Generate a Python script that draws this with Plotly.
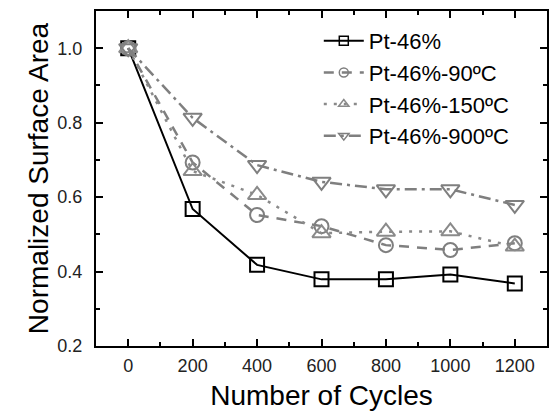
import plotly.graph_objects as go

cycles = [0, 200, 400, 600, 800, 1000, 1200]
pt46 = [1.0, 0.568, 0.418, 0.379, 0.379, 0.392, 0.368]
pt46_90 = [1.0, 0.693, 0.552, 0.522, 0.471, 0.458, 0.476]
pt46_150 = [1.0, 0.670, 0.606, 0.503, 0.507, 0.508, 0.467]
pt46_900 = [1.0, 0.813, 0.686, 0.641, 0.621, 0.621, 0.579]

names = ["Pt-46%", "Pt-46%-90ºC", "Pt-46%-150ºC", "Pt-46%-900ºC"]
series = [pt46, pt46_90, pt46_150, pt46_900]
colors = ["#000000", "#7f7f7f", "#8a8a8a", "#7f7f7f"]
widths = [2, 2.5, 2.5, 2.5]
dashes = ["solid", "10px,8px", "3px,7px", "12px,5px,3px,5px"]
symbols = ["square-open", "circle-open", "triangle-up-open", "triangle-down-open"]
sizes = [14, 14, 16, 16]

fig = go.Figure()
for n, ys, c, w, d, s, sz in zip(names, series, colors, widths, dashes, symbols, sizes):
    fig.add_trace(go.Scatter(
        x=cycles, y=ys, name=n, mode="lines+markers", showlegend=False,
        line=dict(color=c, width=w, dash=d),
        marker=dict(symbol=s, size=sz, color=c, line=dict(width=2, color=c)),
    ))
# legend entries with smaller symbols, as in the reference key
for n, c, w, d, s in zip(names, colors, widths, dashes, symbols):
    fig.add_trace(go.Scatter(
        x=[None], y=[None], name=n, mode="lines+markers", showlegend=True,
        line=dict(color=c, width=w, dash=d),
        marker=dict(symbol=s, size=9, color=c, line=dict(width=1.5, color=c)),
    ))

font = "Arial, Liberation Sans, sans-serif"
axis_common = dict(
    showline=True, linecolor="black", linewidth=2, mirror="ticks",
    ticks="inside", ticklen=7, tickwidth=2, tickcolor="black",
    showgrid=False, zeroline=False, automargin=False,
    tickfont=dict(family=font, size=18, color="#222"),
)
fig.update_xaxes(
    range=[-100, 1300], tickvals=cycles, ticktext=[str(v) for v in cycles],
    minor=dict(ticks="inside", ticklen=4, tickwidth=2, tickcolor="black", dtick=100, tick0=0),
    title=dict(text="Number of Cycles", font=dict(family=font, size=28, color="black"), standoff=14),
    ticklabelstandoff=2,
    **axis_common,
)
fig.update_yaxes(
    range=[0.2, 1.1], tickvals=[0.2, 0.4, 0.6, 0.8, 1.0],
    ticktext=["0.2", "0.4", "0.6", "0.8", "1.0"],
    minor=dict(ticks="inside", ticklen=4, tickwidth=2, tickcolor="black", dtick=0.1, tick0=0.2),
    title=dict(text="Normalized Surface Area", font=dict(family=font, size=28, color="black"), standoff=1),
    ticklabelstandoff=8,
    **axis_common,
)
fig.update_layout(
    width=557, height=411,
    margin=dict(l=96, r=10, t=11, b=65),
    paper_bgcolor="white", plot_bgcolor="white",
    font=dict(family=font),
    legend=dict(
        x=0.494, y=0.973, xanchor="left", yanchor="top",
        bgcolor="rgba(0,0,0,0)", borderwidth=0,
        font=dict(family=font, size=22, color="black"),
        itemwidth=40,
    ),
    showlegend=True,
)
fig.write_html(
    "out.html",
    config={"displayModeBar": False},
    post_script="document.body.style.margin='0';document.body.style.overflow='hidden';",
)
